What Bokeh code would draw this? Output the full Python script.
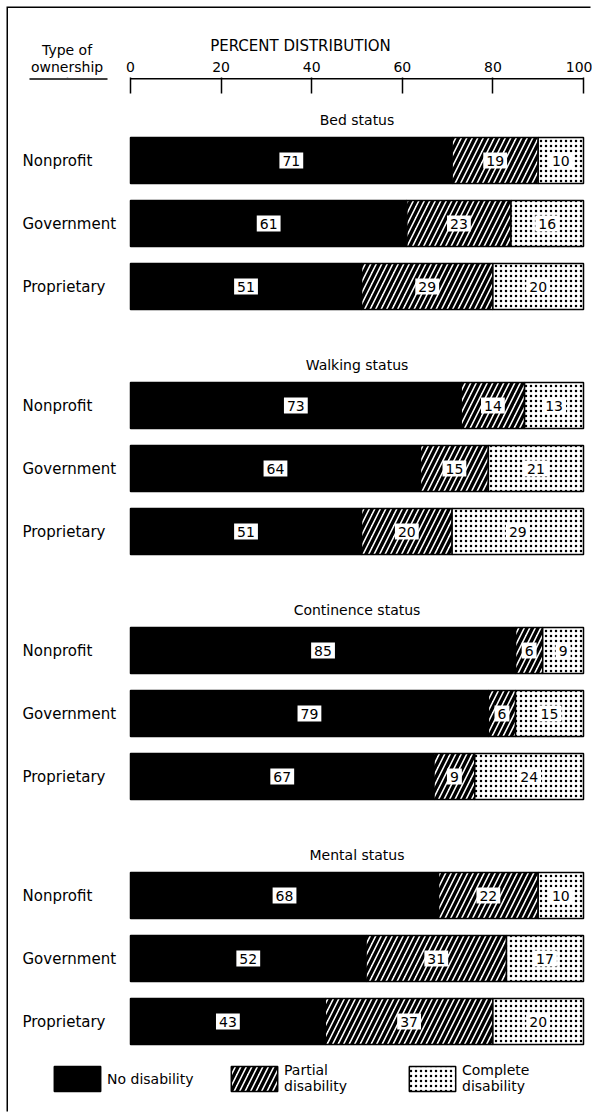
from bokeh.plotting import figure
from bokeh.models import Range1d, FixedTicker, Legend, LegendItem, ColumnDataSource, BoxAnnotation
from bokeh.core.properties import value
from bokeh.embed import file_html
from bokeh.resources import INLINE

# ---------------- data ----------------
groups = ["Bed status", "Walking status", "Continence status", "Mental status"]
ownership = ["Nonprofit", "Government", "Proprietary"]
no_disability = [71, 61, 51, 73, 64, 51, 85, 79, 67, 68, 52, 43]
partial_disability = [19, 23, 29, 14, 15, 20, 6, 6, 9, 22, 31, 37]
complete_disability = [10, 16, 20, 13, 21, 29, 9, 15, 24, 10, 17, 20]
x_ticks = [0, 20, 40, 60, 80, 100]
header_label = "Type of\nownership"
legend_labels = ["No disability", "Partial\ndisability", "Complete\ndisability"]

# ---------------- layout constants (figure pixels; figure sits at page 8,8) ----------------
FONT = "DejaVu Sans"
W, H = 584, 1105
TOP = 69                     # height of the panel above the frame (axis area)
PX = 4.53                    # pixels per percent
X0 = 122                     # pixel offset of 0% from the figure's left edge
ROW = 63.0                   # pixels between rows
GROUP = 245.0 / ROW          # rows between groups
FIRST = 152.0                # pixel (from figure top) of first row centre
BAR_H = 46.0 / ROW
HDR = -14.0                  # x position of the header column

x_start = -X0 / PX
x_end = (W - X0) / PX
y_end = (FIRST - TOP) / ROW
y_start = -(H - FIRST) / ROW

def ypix(py):
    return (FIRST - py) / ROW

def xpix(px):
    return (px - X0) / PX

# ---------------- derived columns ----------------
n = len(no_disability)
pos = [-(g * GROUP + r) for g in range(len(groups)) for r in range(len(ownership))]
np_right = [a + b for a, b in zip(no_disability, partial_disability)]
src = ColumnDataSource(dict(
    y=pos,
    zero=[0] * n,
    no=no_disability,
    np=np_right,
    full=[a + c for a, c in zip(np_right, complete_disability)],
    no_mid=[a / 2 for a in no_disability],
    pa_mid=[a + b / 2 for a, b in zip(no_disability, partial_disability)],
    co_mid=[a + c / 2 for a, c in zip(np_right, complete_disability)],
    no_txt=[str(v) for v in no_disability],
    pa_txt=[str(v) for v in partial_disability],
    co_txt=[str(v) for v in complete_disability],
    own=ownership * len(groups),
))

p = figure(width=W, height=H, x_range=Range1d(x_start, x_end), y_range=Range1d(y_start, y_end),
           x_axis_location="above", y_axis_location=None, title=None,
           output_backend="svg", toolbar_location=None,
           min_border_top=TOP, min_border_left=0, min_border_right=0, min_border_bottom=0)
p.margin = (8, 0, 0, 8)
p.styles = {"box-shadow": "-1.5px -1.5px 0 0 #000"}
p.grid.visible = False
p.outline_line_color = None
p.background_fill_color = "white"

ax = p.xaxis[0]
ax.ticker = FixedTicker(ticks=[HDR] + x_ticks)
ax.major_label_overrides = {HDR: header_label}
ax.axis_line_color = None
ax.major_tick_in = 16
ax.major_tick_out = 0
ax.minor_tick_line_color = None
ax.major_tick_line_width = 1.5
ax.major_label_standoff = 3
ax.major_label_text_font = FONT
ax.major_label_text_font_size = "14px"
ax.major_label_text_color = "black"
ax.major_label_text_line_height = 1.05
ax.axis_label = "PERCENT DISTRIBUTION"
ax.axis_label_text_font = FONT
ax.axis_label_text_font_size = "15px"
ax.axis_label_text_font_style = "normal"
ax.axis_label_text_color = "black"
ax.axis_label_standoff = -16

# hide the tick mark under the header column
p.add_layout(BoxAnnotation(left=HDR - 1.5, right=HDR + 1.5, top=y_end + 1, bottom=ypix(100),
                           fill_color="white", fill_alpha=1, line_color=None))
# axis rule (0..100) and header underline, just under the frame top
p.line(x=[x_ticks[0], x_ticks[-1]], y=[ypix(70.2)] * 2, line_color="black", line_width=1.5)
p.line(x=[xpix(21), xpix(99)], y=[ypix(70.6)] * 2, line_color="black", line_width=1.5,
       level="overlay")

# ---------------- bars ----------------
r_no = p.hbar(y="y", left="zero", right="no", height=BAR_H, source=src,
              fill_color="black", line_color="black", line_width=1.5)
r_pa = p.hbar(y="y", left="no", right="np", height=BAR_H, source=src,
              fill_color="white", line_color="black", line_width=1.5,
              hatch_pattern="/", hatch_color="black", hatch_scale=11, hatch_weight=3.4)
r_co = p.hbar(y="y", left="np", right="full", height=BAR_H, source=src,
              fill_color="white", line_color="black", line_width=1.5,
              hatch_pattern=".", hatch_color="black", hatch_scale=5)

for xcol, tcol in (("no_mid", "no_txt"), ("pa_mid", "pa_txt"), ("co_mid", "co_txt")):
    p.text(x=xcol, y="y", text=tcol, source=src, text_align="center", text_baseline="middle",
           text_font=value(FONT), text_font_size="14px", text_color="black",
           background_fill_color="white", padding=3)

# row labels
p.text(x=xpix(14), y="y", text="own", source=src, text_align="left", text_baseline="middle",
       text_font=value(FONT), text_font_size="15px", text_color="black")

# group titles
gsrc = ColumnDataSource(dict(
    x=[50] * len(groups),
    y=[-(g * GROUP) + 0.64 for g in range(len(groups))],
    t=groups))
p.text(x="x", y="y", text="t", source=gsrc, text_align="center", text_baseline="middle",
       text_font=value(FONT), text_font_size="14px", text_color="black")

# ---------------- legends ----------------
for rend, lab, lx in ((r_no, legend_labels[0], 40), (r_pa, legend_labels[1], 217),
                      (r_co, legend_labels[2], 395)):
    lg = Legend(items=[LegendItem(label=lab, renderers=[rend])], location=(lx, 19),
                orientation="horizontal", glyph_width=58, glyph_height=31,
                label_standoff=1, padding=0, margin=0, border_line_color=None,
                background_fill_alpha=0, label_text_font=FONT, label_text_font_size="14px",
                label_text_color="black", label_text_line_height=1.05)
    p.add_layout(lg)

open("out.html", "w").write(file_html(p, INLINE))
